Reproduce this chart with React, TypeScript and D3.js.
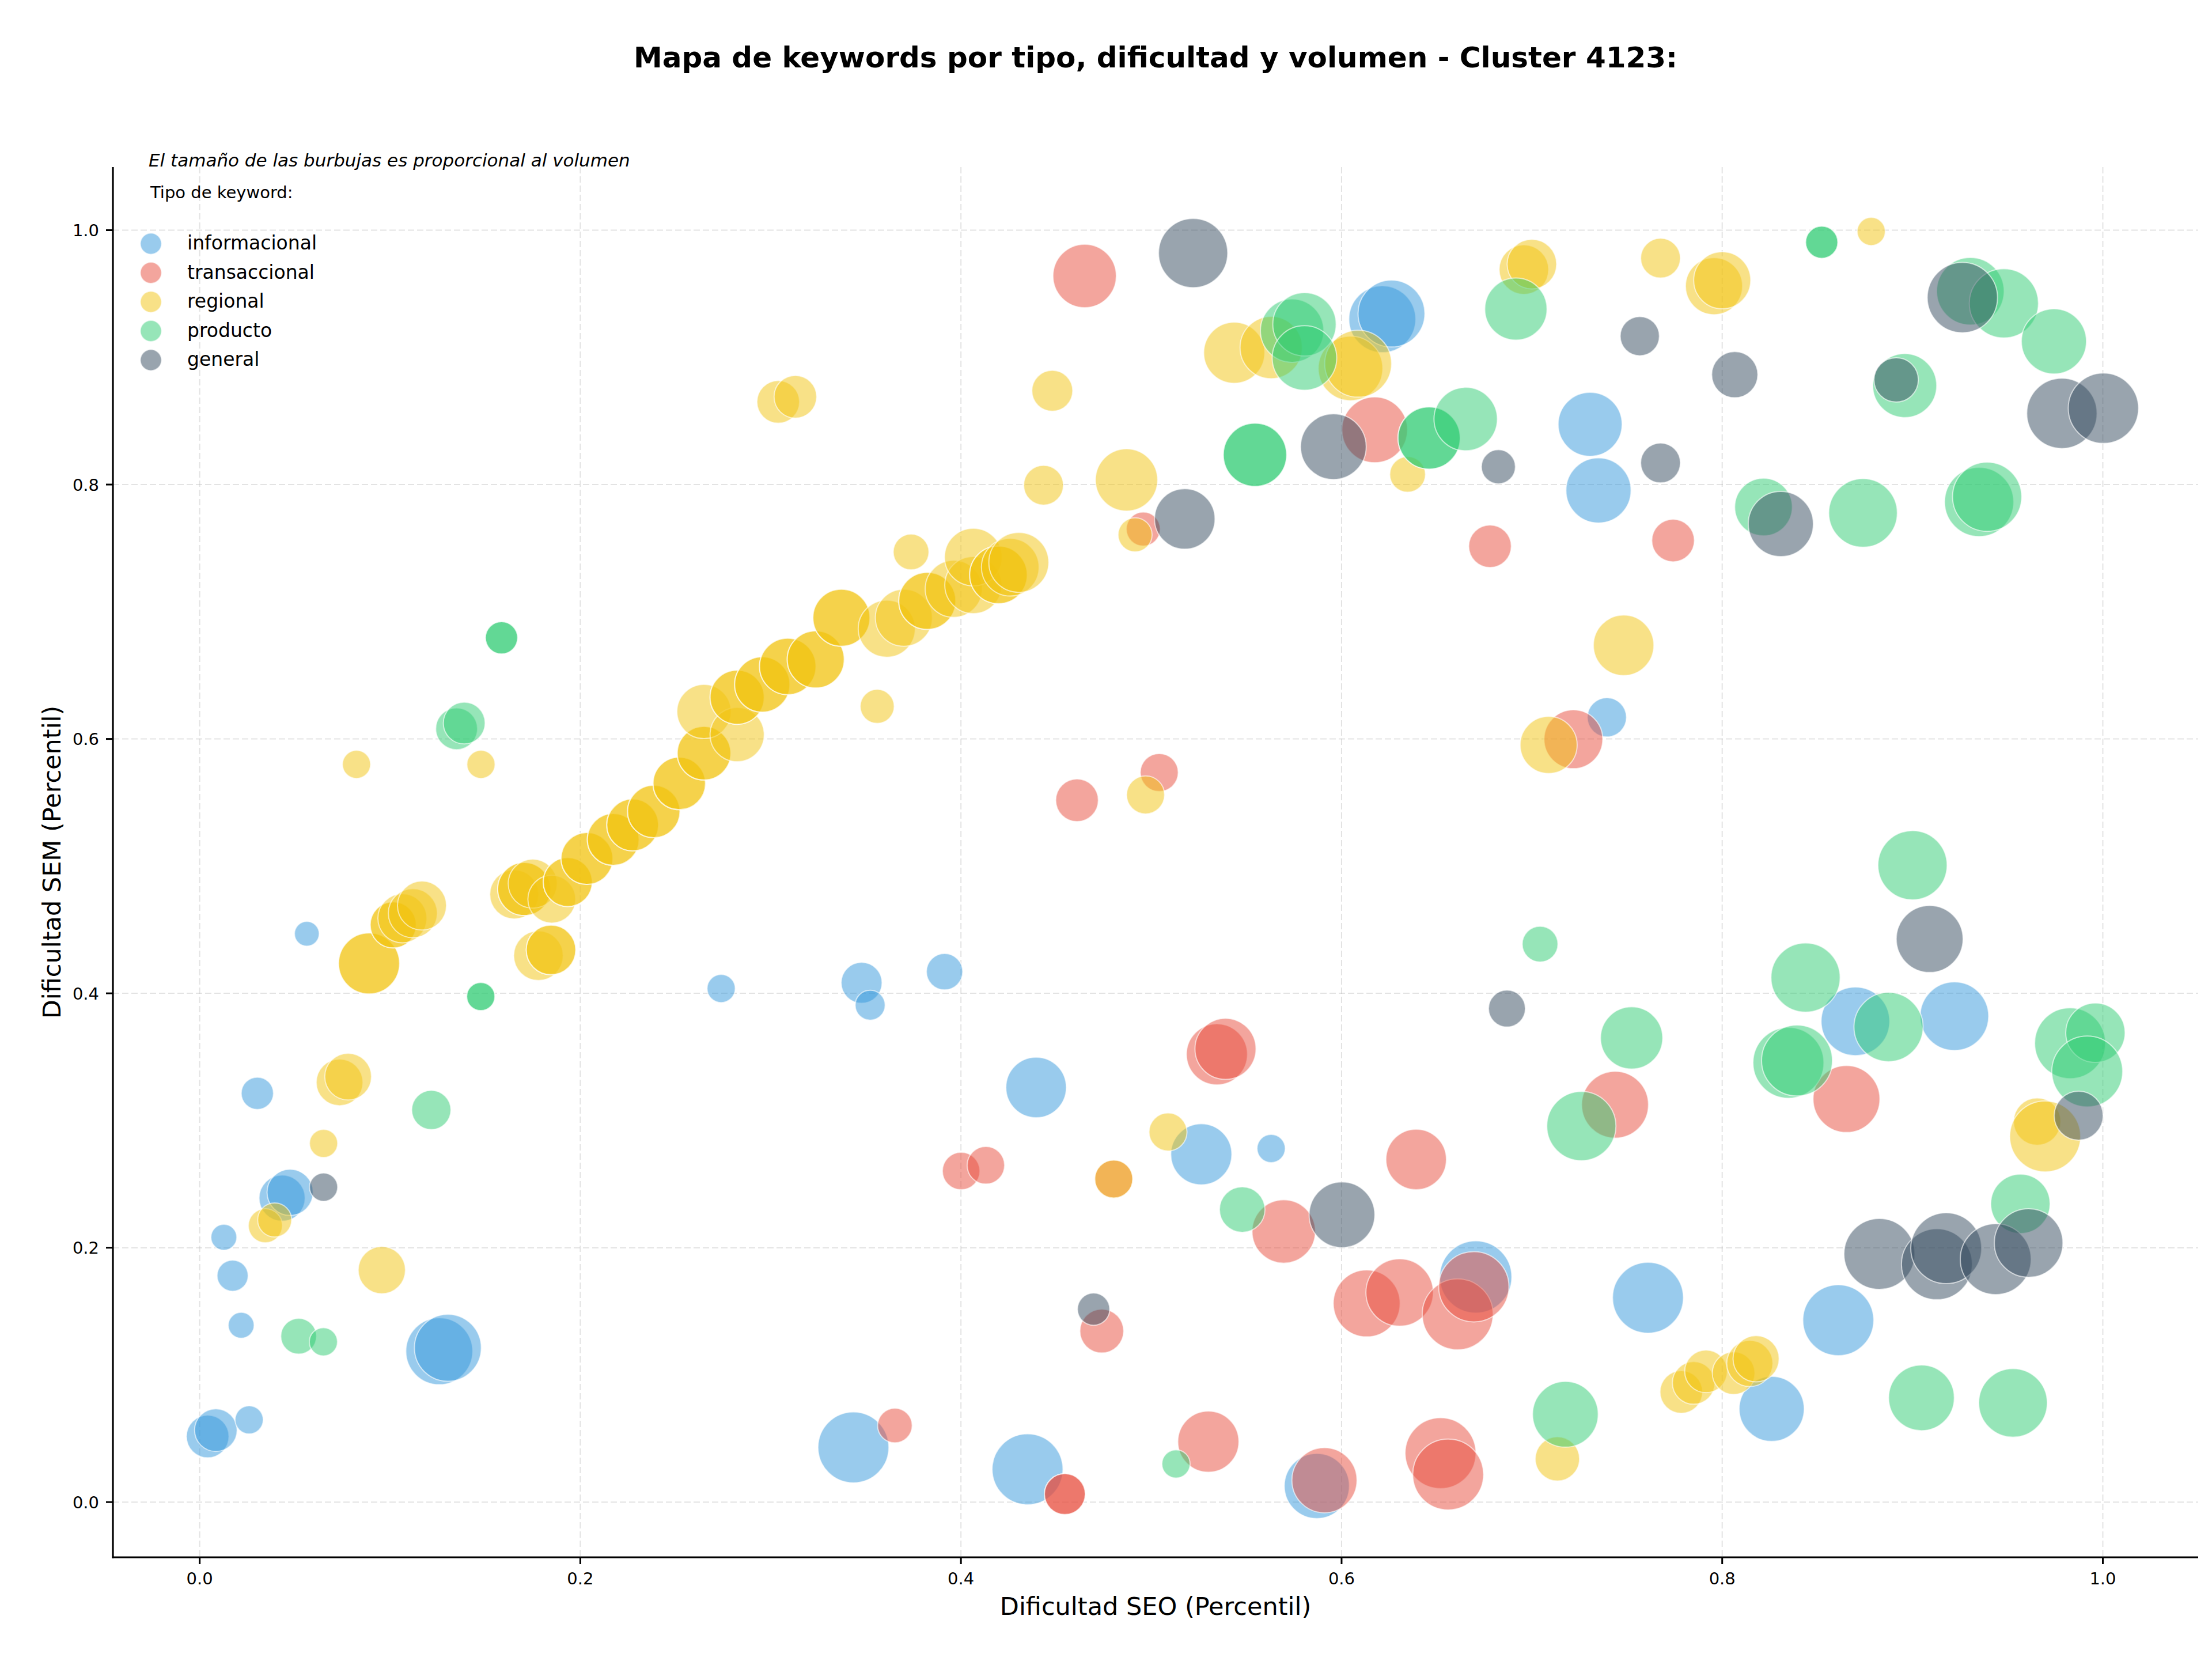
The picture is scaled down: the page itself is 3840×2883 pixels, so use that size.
import React from 'react';
import * as d3 from 'd3';

// ---------------- DATA ----------------
const tipos = ['informacional', 'transaccional', 'regional', 'producto', 'general'];
const colores = ['#3498db', '#e74c3c', '#f1c40f', '#2ecc71', '#34495e'];

// [dificultad SEO, dificultad SEM, volumen]
const informacional: [number, number, number][] = [
  [0.0042, 0.0516, 279], [0.0085, 0.0566, 279], [0.026, 0.0647, 122], [0.0218, 0.139, 103],
  [0.0173, 0.178, 149], [0.0127, 0.2082, 103], [0.0433, 0.239, 327], [0.0475, 0.2435, 327],
  [0.0303, 0.3214, 160], [0.0563, 0.4468, 94], [0.1259, 0.1186, 687], [0.1304, 0.1213, 687],
  [0.274, 0.4038, 122], [0.3478, 0.4083, 257], [0.3523, 0.3907, 138], [0.3914, 0.417, 203],
  [0.4395, 0.326, 562], [0.5263, 0.2734, 573], [0.563, 0.278, 122], [0.3435, 0.043, 772],
  [0.435, 0.0258, 772], [0.587, 0.0127, 651], [0.6705, 0.177, 800], [0.6214, 0.93, 687],
  [0.6262, 0.9344, 687], [0.7306, 0.8474, 629], [0.735, 0.7954, 651], [0.7394, 0.617, 236],
  [0.761, 0.1607, 772], [0.861, 0.143, 772], [0.826, 0.0733, 651], [0.87, 0.378, 723],
  [0.922, 0.382, 723],
];

const transaccional: [number, number, number][] = [
  [0.465, 0.964, 617], [0.4958, 0.765, 178], [0.6174, 0.843, 663], [0.678, 0.7515, 279],
  [0.7742, 0.756, 279], [0.7218, 0.5998, 531], [0.5042, 0.5736, 222], [0.461, 0.5518, 279],
  [0.5345, 0.352, 573], [0.539, 0.3563, 573], [0.4001, 0.2603, 216], [0.4131, 0.2648, 216],
  [0.4803, 0.254, 222], [0.6392, 0.2694, 562], [0.5696, 0.2128, 617], [0.6132, 0.1562, 687],
  [0.6305, 0.1648, 698], [0.661, 0.1476, 772], [0.6695, 0.1693, 759], [0.474, 0.1345, 295],
  [0.3653, 0.0602, 184], [0.4546, 0.0063, 257], [0.4546, 0.0063, 257], [0.53, 0.0475, 573],
  [0.591, 0.0172, 651], [0.652, 0.0385, 772], [0.656, 0.0217, 772], [0.7437, 0.3124, 687],
  [0.8653, 0.3169, 687],
];

const regional: [number, number, number][] = [
  // diagonal chain
  [0.089, 0.4235, 573], [0.089, 0.4235, 573], [0.1017, 0.4538, 327], [0.1017, 0.4538, 327],
  [0.1065, 0.459, 369], [0.112, 0.463, 369], [0.1168, 0.469, 369],
  [0.1653, 0.4778, 369], [0.1705, 0.482, 432], [0.1705, 0.482, 432], [0.175, 0.4862, 369],
  [0.185, 0.474, 351], [0.1934, 0.4875, 369], [0.1934, 0.4875, 369],
  [0.2035, 0.506, 413], [0.2035, 0.506, 413], [0.2173, 0.521, 413], [0.2173, 0.521, 413],
  [0.2275, 0.5324, 413], [0.2275, 0.5324, 413], [0.2386, 0.543, 423], [0.2386, 0.543, 423],
  [0.252, 0.565, 423], [0.252, 0.565, 423], [0.265, 0.5888, 441], [0.265, 0.5888, 441],
  [0.265, 0.6215, 451], [0.2824, 0.6034, 451], [0.2824, 0.6328, 451], [0.2824, 0.6328, 451],
  [0.2956, 0.6428, 470], [0.2956, 0.6428, 470], [0.309, 0.657, 490], [0.309, 0.657, 490],
  [0.3237, 0.6625, 500], [0.3237, 0.6625, 500], [0.3372, 0.6953, 500], [0.3372, 0.6953, 500],
  [0.361, 0.6867, 500], [0.37, 0.6953, 500], [0.3823, 0.7085, 500], [0.3823, 0.7085, 500],
  [0.3962, 0.718, 500], [0.4065, 0.721, 500], [0.4065, 0.743, 510],
  [0.4197, 0.729, 510], [0.4197, 0.729, 510], [0.4259, 0.735, 510], [0.4304, 0.7388, 552],
  [0.178, 0.4296, 377], [0.1846, 0.4341, 377], [0.1846, 0.4341, 377],
  // others
  [0.0824, 0.58, 122], [0.1478, 0.58, 122], [0.304, 0.865, 279], [0.313, 0.869, 279],
  [0.356, 0.6256, 178], [0.3738, 0.747, 196], [0.448, 0.8737, 257], [0.4434, 0.7995, 243],
  [0.487, 0.8036, 595], [0.4915, 0.7605, 178], [0.5436, 0.9036, 573], [0.563, 0.9077, 595],
  [0.6047, 0.8913, 640], [0.6087, 0.895, 687], [0.6347, 0.808, 196], [0.6958, 0.969, 377],
  [0.7, 0.9733, 377], [0.7676, 0.978, 243], [0.7957, 0.956, 500], [0.8, 0.9606, 500],
  [0.8783, 0.999, 122], [0.7482, 0.6736, 562], [0.7088, 0.5953, 500], [0.497, 0.556, 222],
  [0.5088, 0.291, 222], [0.4803, 0.254, 222], [0.0735, 0.33, 335], [0.078, 0.3345, 335],
  [0.0651, 0.282, 122], [0.0345, 0.2173, 178], [0.0394, 0.2218, 178], [0.0957, 0.1824, 343],
  [0.9655, 0.2992, 343], [0.9697, 0.2875, 772], [0.7785, 0.0866, 279], [0.785, 0.0937, 279],
  [0.7915, 0.1028, 279], [0.806, 0.1014, 279], [0.8145, 0.109, 327], [0.8178, 0.1127, 327],
  [0.7134, 0.034, 302],
];

const producto: [number, number, number][] = [
  [0.1586, 0.6795, 160], [0.1586, 0.6795, 160], [0.135, 0.608, 268], [0.139, 0.6125, 268],
  [0.1477, 0.3975, 122], [0.1477, 0.3975, 122], [0.1217, 0.3083, 236], [0.052, 0.1304, 196],
  [0.065, 0.126, 122], [0.574, 0.921, 617], [0.5805, 0.926, 617], [0.5805, 0.8995, 640],
  [0.5545, 0.8234, 617], [0.5545, 0.8234, 617], [0.646, 0.8366, 595], [0.646, 0.8366, 595],
  [0.6652, 0.8515, 617], [0.6916, 0.938, 595], [0.8523, 0.9905, 160], [0.8523, 0.9905, 160],
  [0.9304, 0.952, 700], [0.948, 0.9425, 735], [0.9743, 0.9126, 651], [0.8959, 0.8778, 629],
  [0.8217, 0.7823, 510], [0.874, 0.7777, 723], [0.935, 0.7863, 735], [0.9392, 0.7904, 735],
  [0.9, 0.5007, 735], [0.7043, 0.4387, 196], [0.7524, 0.3649, 595], [0.726, 0.2956, 735],
  [0.8438, 0.4124, 735], [0.8874, 0.3735, 735], [0.8348, 0.3454, 772], [0.8393, 0.3472, 772],
  [0.9828, 0.3608, 772], [0.9961, 0.369, 541], [0.9918, 0.3386, 772], [0.9567, 0.2345, 541],
  [0.5478, 0.23, 318], [0.513, 0.03, 122], [0.7176, 0.069, 663], [0.9047, 0.082, 663],
  [0.9528, 0.078, 723],
];

const general: [number, number, number][] = [
  [0.0651, 0.2476, 122], [0.522, 0.982, 735], [0.5176, 0.773, 562], [0.5957, 0.8298, 663],
  [0.6824, 0.814, 178], [0.7567, 0.9167, 236], [0.8066, 0.8864, 327], [0.9262, 0.947, 759],
  [0.8914, 0.8823, 302], [0.9785, 0.856, 759], [1.0003, 0.86, 759], [0.7676, 0.817, 243],
  [0.8308, 0.769, 651], [0.909, 0.4427, 687], [0.6869, 0.388, 209], [0.9873, 0.3038, 368],
  [0.6002, 0.2259, 663], [0.4697, 0.1517, 160], [0.8826, 0.1951, 772], [0.9128, 0.187, 772],
  [0.9177, 0.1996, 772], [0.9437, 0.191, 772], [0.961, 0.2037, 723],
];

const series = [informacional, transaccional, regional, producto, general];

const xTicks = [0.0, 0.2, 0.4, 0.6, 0.8, 1.0];
const yTicks = [0.0, 0.2, 0.4, 0.6, 0.8, 1.0];

const titulo = 'Mapa de keywords por tipo, dificultad y volumen - Cluster 4123:';
const nota = 'El tamaño de las burbujas es proporcional al volumen';
const tituloLeyenda = 'Tipo de keyword:';
const xLabel = 'Dificultad SEO (Percentil)';
const yLabel = 'Dificultad SEM (Percentil)';

// ---------------- LAYOUT ----------------
const W = 3840;
const H = 2883;
const L = 196, R = 3816, T = 290, B = 2703;
const FONT = '"DejaVu Sans", "Liberation Sans", sans-serif';

export default function App() {
  const x = d3.scaleLinear().domain([-0.0456, 1.0501]).range([L, R]);
  const y = d3.scaleLinear().domain([-0.0434, 1.0496]).range([B, T]);
  const r = d3.scaleSqrt().domain([0, 1000]).range([0, 70]);
  const fmt = d3.format('.1f');

  return (
    <svg
      width={W}
      height={H}
      viewBox={`0 0 ${W} ${H}`}
      style={{ position: 'absolute', left: 0, top: 0, background: '#fff', fontFamily: FONT }}
    >
      <rect x={0} y={0} width={W} height={H} fill="#ffffff" />
      {/* grid */}
      <g stroke="#b0b0b0" strokeOpacity={0.35} strokeWidth={2} strokeDasharray="11,5">
        {xTicks.map((t) => (
          <line key={'gx' + t} x1={x(t)} x2={x(t)} y1={T} y2={B} />
        ))}
        {yTicks.map((t) => (
          <line key={'gy' + t} x1={L} x2={R} y1={y(t)} y2={y(t)} />
        ))}
      </g>

      {/* bubbles */}
      {series.map((pts, si) => (
        <g key={tipos[si]}>
          {pts.map((p, i) => (
            <circle
              key={i}
              cx={x(p[0])}
              cy={y(p[1])}
              r={r(p[2])}
              fill={colores[si]}
              fillOpacity={0.5}
              stroke="#ffffff"
              strokeOpacity={0.6}
              strokeWidth={2}
            />
          ))}
        </g>
      ))}

      {/* spines */}
      <line x1={L} x2={L} y1={T} y2={B + 1.5} stroke="#000" strokeWidth={3.2} />
      <line x1={L - 1.5} x2={R} y1={B} y2={B} stroke="#000" strokeWidth={3.2} />

      {/* x ticks */}
      {xTicks.map((t) => (
        <g key={'xt' + t}>
          <line x1={x(t)} x2={x(t)} y1={B} y2={B + 12} stroke="#000" strokeWidth={3} />
          <text x={x(t)} y={2750} fontSize={29} textAnchor="middle" fill="#000">
            {fmt(t)}
          </text>
        </g>
      ))}
      {/* y ticks */}
      {yTicks.map((t) => (
        <g key={'yt' + t}>
          <line x1={L - 12} x2={L} y1={y(t)} y2={y(t)} stroke="#000" strokeWidth={3} />
          <text x={172} y={y(t) + 10.5} fontSize={29} textAnchor="end" fill="#000">
            {fmt(t)}
          </text>
        </g>
      ))}

      {/* axis labels */}
      <text x={(L + R) / 2} y={2803} fontSize={43} textAnchor="middle" fill="#000">
        {xLabel}
      </text>
      <text
        transform={`translate(105,${(T + B) / 2}) rotate(-90)`}
        fontSize={43}
        textAnchor="middle"
        fill="#000"
      >
        {yLabel}
      </text>

      {/* title */}
      <text x={(L + R) / 2} y={117} fontSize={50} fontWeight="bold" textAnchor="middle" fill="#000">
        {titulo}
      </text>

      {/* note + legend */}
      <text x={258} y={289} fontSize={31} fontStyle="italic" fill="#000">
        {nota}
      </text>
      <text x={261} y={344} fontSize={29} fill="#000">
        {tituloLeyenda}
      </text>
      {tipos.map((t, i) => {
        const cy = 423 + i * 50.5;
        return (
          <g key={'lg' + t}>
            <circle cx={262} cy={cy} r={18.5} fill={colores[i]} fillOpacity={0.5} stroke="#fff" strokeOpacity={0.6} strokeWidth={2} />
            <text x={325} y={cy + 10} fontSize={33} fill="#000">
              {t}
            </text>
          </g>
        );
      })}
    </svg>
  );
}
